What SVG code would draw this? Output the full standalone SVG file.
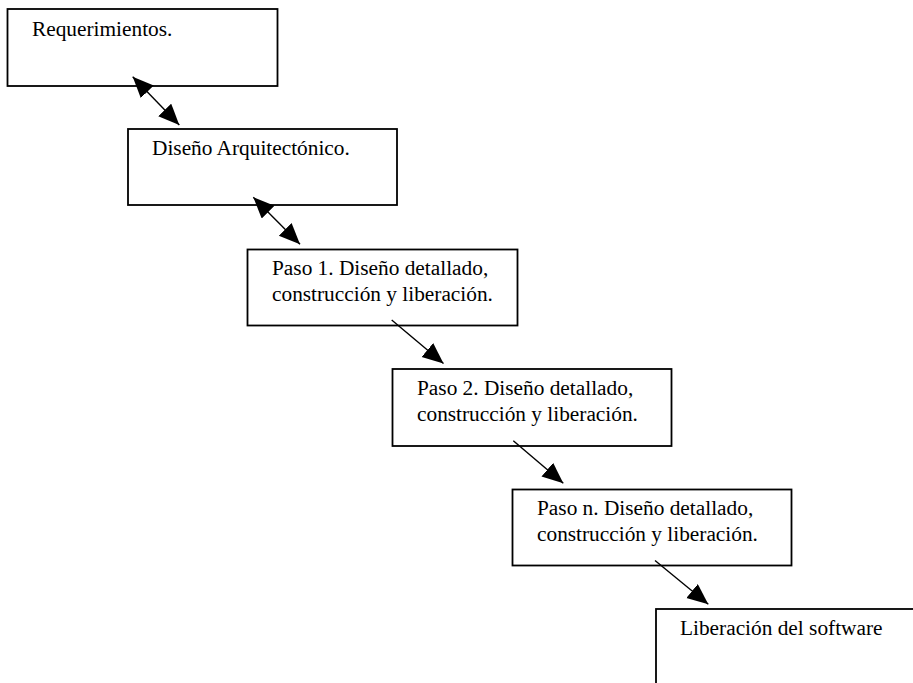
<svg xmlns="http://www.w3.org/2000/svg" width="913" height="683" viewBox="0 0 913 683">
<style>
.box{fill:#fff;stroke:#000;stroke-width:1.8}
.t{font-family:"Liberation Serif","Times New Roman",serif;font-size:21.33px;fill:#000}
.c{stroke:#000;stroke-width:1.4;fill:none}
</style>
<defs>
<marker id="ah" markerUnits="userSpaceOnUse" markerWidth="24" markerHeight="20" refX="21" refY="9" orient="auto-start-reverse">
<path d="M0,0 L21,9 L0,18 Z" fill="#000"/>
</marker>
</defs>
<rect width="913" height="683" fill="#fff"/>
<g id="n1"><rect class="box" x="7.5" y="9" width="270" height="77"/><text class="t" x="32" y="36">Requerimientos.</text></g>
<g id="n2"><rect class="box" x="128" y="129" width="269" height="76"/><text class="t" x="152" y="155">Diseño Arquitectónico.</text></g>
<g id="n3"><rect class="box" x="247.5" y="249.5" width="270" height="76"/><text class="t" x="272" y="275">Paso 1. Diseño detallado,</text><text class="t" x="272" y="301">construcción y liberación.</text></g>
<g id="n4"><rect class="box" x="392.5" y="369" width="279" height="77"/><text class="t" x="417" y="395">Paso 2. Diseño detallado,</text><text class="t" x="417" y="420.5">construcción y liberación.</text></g>
<g id="n5"><rect class="box" x="512.5" y="489.5" width="279" height="76"/><text class="t" x="537" y="515">Paso n. Diseño detallado,</text><text class="t" x="537" y="540.5">construcción y liberación.</text></g>
<g id="n6"><rect class="box" x="656" y="609" width="300" height="100"/><text class="t" x="680" y="634.5">Liberación del software</text></g>
<g id="connectors">
<line class="c" x1="132.7" y1="76.7" x2="179.3" y2="125" marker-start="url(#ah)" marker-end="url(#ah)"/>
<line class="c" x1="253.3" y1="197.3" x2="300" y2="244.3" marker-start="url(#ah)" marker-end="url(#ah)"/>
<line class="c" x1="391.7" y1="320" x2="443.5" y2="363.5" marker-end="url(#ah)"/>
<line class="c" x1="513.3" y1="440.7" x2="563.3" y2="483.3" marker-end="url(#ah)"/>
<line class="c" x1="655" y1="560.5" x2="708.3" y2="604.3" marker-end="url(#ah)"/>
</g>
</svg>
